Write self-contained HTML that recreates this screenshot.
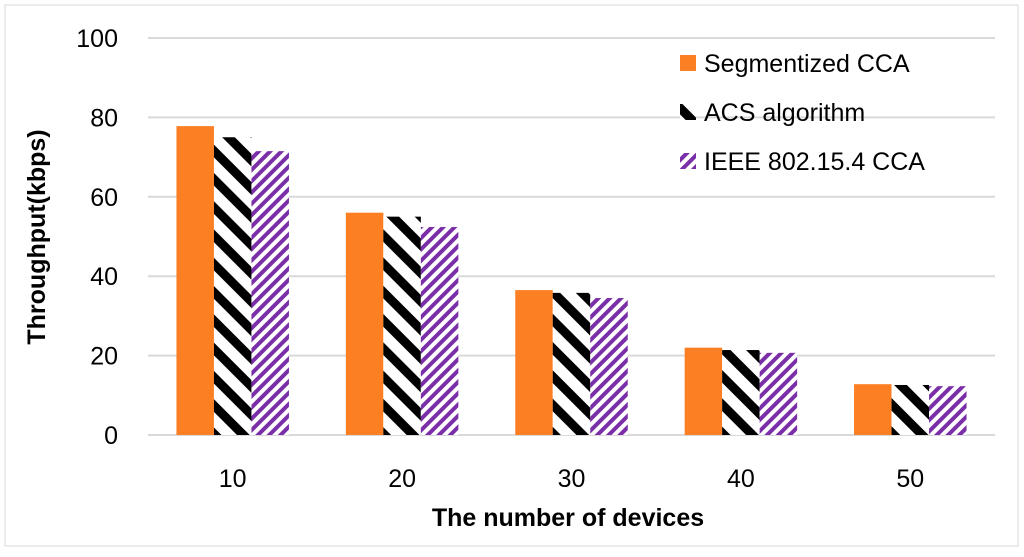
<!DOCTYPE html>
<html><head><meta charset="utf-8"><style>
body{margin:0;background:#fff;width:1024px;height:552px;overflow:hidden;font-family:"Liberation Sans",sans-serif}
</style></head><body>
<svg width="1024" height="552">
<defs>
<pattern id="pAcs" patternUnits="userSpaceOnUse" width="20" height="20" patternTransform="rotate(-45)">
<rect width="20" height="20" fill="#fff"/><rect width="9" height="20" fill="#000"/></pattern>
<pattern id="pIeee" patternUnits="userSpaceOnUse" width="8" height="8" patternTransform="rotate(45)">
<rect width="8" height="8" fill="#fff"/><rect width="4" height="8" fill="#7a2fa8"/></pattern>
</defs>
<rect x="5" y="5" width="1013" height="541" fill="none" stroke="#d9d9d9"/>
<g id="grid"></g><g id="bars"></g><g id="labels"></g>
<text x="0" y="0" transform="translate(45,237) rotate(-90)" text-anchor="middle" font-size="25" font-weight="bold">Throughput(kbps)</text>
<text x="568" y="526" text-anchor="middle" font-size="25" font-weight="bold">The number of devices</text>
<g>
<g><rect x="680" y="55" width="16" height="16" fill="#fd7f23"/><text x="704" y="72" font-size="25">Segmentized CCA</text></g>
<g><rect x="680" y="104" width="16" height="16" fill="url(#pAcs)"/><text x="704" y="121" font-size="25">ACS algorithm</text></g>
<g><rect x="680" y="153" width="16" height="16" fill="url(#pIeee)"/><text x="704" y="170" font-size="25">IEEE 802.15.4 CCA</text></g>
</g>
</svg>
<script>
const categories=["10","20","30","40","50"];
const segmentized=[77.8,56,36.5,22,12.8];
const acs=[75,55,35.8,21.4,12.6];
const ieee=[71.5,52.4,34.5,20.7,12.3];
const yTicks=[0,20,40,60,80,100];
const NS="http://www.w3.org/2000/svg";
const x0=148,x1=995,y0=435,y1=38;
const y=v=>y0-(v/100)*(y0-y1);
const gw=(x1-x0)/categories.length;
const bw=37.5;
const grid=document.getElementById('grid'),bars=document.getElementById('bars'),lab=document.getElementById('labels');
function mk(tag,attrs,parent){const e=document.createElementNS(NS,tag);for(const k in attrs)e.setAttribute(k,attrs[k]);parent.appendChild(e);return e;}
yTicks.forEach(t=>{
 const l=mk('line',{x1:x0,x2:x1,y1:y(t),y2:y(t),stroke:'#d9d9d9','stroke-width':2},grid);
 
 
 const tx=mk('text',{x:118,y:y(t)+9,'text-anchor':'end','font-size':25},lab);
 tx.textContent=t;
 
 
});
const series=[[segmentized,'#fd7f23','segmentized'],[acs,'url(#pAcs)','acs'],[ieee,'url(#pIeee)','ieee']];
categories.forEach((c,i)=>{
 const cx=x0+gw*(i+0.5);
 series.forEach((s,j)=>{
  const v=s[0][i];
  const r=mk('rect',{x:cx-1.5*bw+j*bw,y:y(v),width:bw,height:y0-y(v),fill:s[1]},bars);
  
  
 });
 const tx=mk('text',{x:cx,y:487,'text-anchor':'middle','font-size':25},lab);
 tx.textContent=c;
 
 
});
</script>
</body></html>
